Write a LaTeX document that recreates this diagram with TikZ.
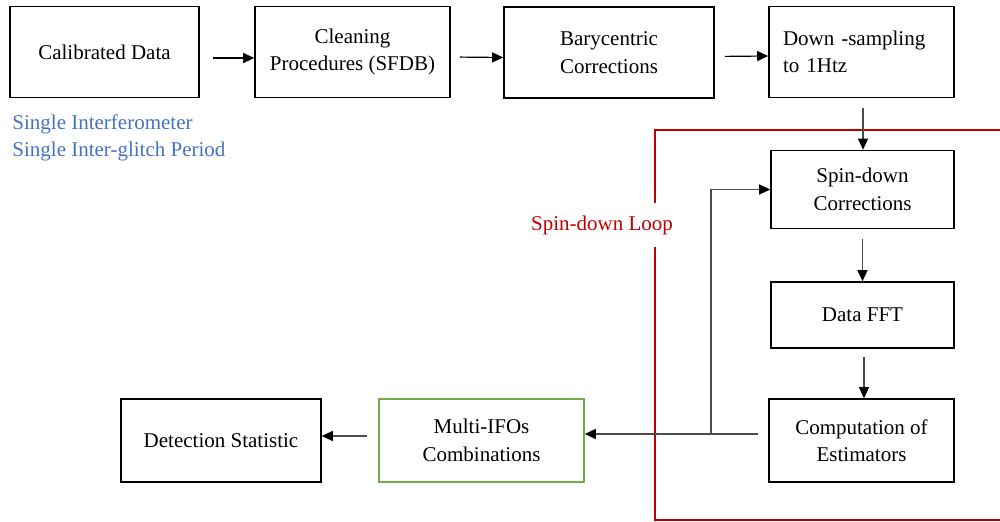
\documentclass[tikz,border=0pt]{standalone}
\usepackage{fontspec}
\setmainfont{Liberation Serif}
\usetikzlibrary{arrows.meta}
\definecolor{loopred}{RGB}{192,0,0}
\definecolor{ifoblue}{RGB}{68,114,196}
\definecolor{ifogreen}{RGB}{112,173,71}

\begin{document}
\begin{tikzpicture}[x=0.5pt, y=-0.5pt,
  every node/.style={font=\fontsize{10.5}{13.75}\selectfont},
  block/.style={draw=black, line width=0.8pt, minimum height=45.5pt,
    align=center, inner sep=0pt},
  flow/.style={draw=black!70, line width=0.6pt,
    -{Triangle[length=5.5pt,width=5pt,black]}}]
\useasboundingbox (0,0) rectangle (1000,522);

% processing chain, top row
\node[block, minimum width=94.5pt] (caldata) at (104.5,52) {Calibrated Data};
\node[block, minimum width=97.5pt] (cleaning) at (352.5,52)
  {Cleaning\\Procedures (SFDB)};
\node[block, minimum width=105pt] (bary) at (609,52.5)
  {Barycentric\\Corrections};
\node[block, align=left, text width=78.5pt, inner xsep=7pt] (downsamp)
  at (861.5,52) {Down -sampling\\to 1Htz};

% spin-down loop
\node[block, minimum width=91.5pt, minimum height=39pt] (spincorr)
  at (862.5,189.5) {Spin-down\\Corrections};
\node[block, minimum width=91.5pt, minimum height=33pt] (fft)
  at (862.5,315) {Data FFT};
\node[block, minimum width=92.5pt, minimum height=41.5pt] (estim)
  at (861.5,440.5) {Computation of\\Estimators};

% combination and statistic
\node[block, draw=ifogreen, minimum width=102.5pt, minimum height=41.5pt]
  (multiifo) at (481.5,440.5) {Multi-IFOs\\Combinations};
\node[block, minimum width=100pt, minimum height=41.5pt] (detstat)
  at (221,440.5) {Detection Statistic};

\node[text=ifoblue, anchor=base west, align=left, inner sep=0pt] (scope)
  at (12,157) {Single Interferometer\\Single Inter-glitch Period};

% loop frame
\coordinate (looptr) at (1006,130);
\coordinate (looptl) at (655,130);
\coordinate (loopgapa) at (655,203);
\coordinate (loopgapb) at (655,247);
\coordinate (loopbl) at (655,520.5);
\coordinate (loopbr) at (1006,520.5);
\draw[loopred, line width=1pt] (looptr) -- (looptl) -- (loopgapa);
\draw[loopred, line width=1pt] (loopgapb) -- (loopbl) -- (loopbr);
\node[text=loopred] (looplabel) at (602,225) {Spin-down Loop};

% connectors
\draw[flow, draw=black, shorten <=6.5pt] ([yshift=-3pt]caldata.east)
  -- ([yshift=-3pt]cleaning.west);
\draw[flow, draw=black, shorten <=4.5pt] ([yshift=-2.5pt]cleaning.east)
  -- ([yshift=-2.5pt]bary.west);
\draw[flow, draw=black, shorten <=5pt] ([yshift=-2pt]bary.east)
  -- ([yshift=-2pt]downsamp.west);
\draw[flow, shorten <=5pt] ([xshift=0.75pt]downsamp.south)
  -- ([xshift=0.25pt]spincorr.north);
\draw[flow, shorten <=5pt] (spincorr.south) -- (fft.north);
\draw[flow, shorten <=4pt] ([xshift=0.75pt]fft.south)
  -- ([xshift=1.25pt]estim.north);
\coordinate (split) at (711,434);
\draw[flow, shorten <=5pt] ([yshift=3.25pt]estim.west)
  -- ([yshift=3.25pt]multiifo.east);
\draw[flow] (split) |- (spincorr.west);
\draw[flow, shorten <=5.5pt] ([yshift=2.25pt]multiifo.west)
  -- ([yshift=2.25pt]detstat.east);
\end{tikzpicture}
\end{document}
